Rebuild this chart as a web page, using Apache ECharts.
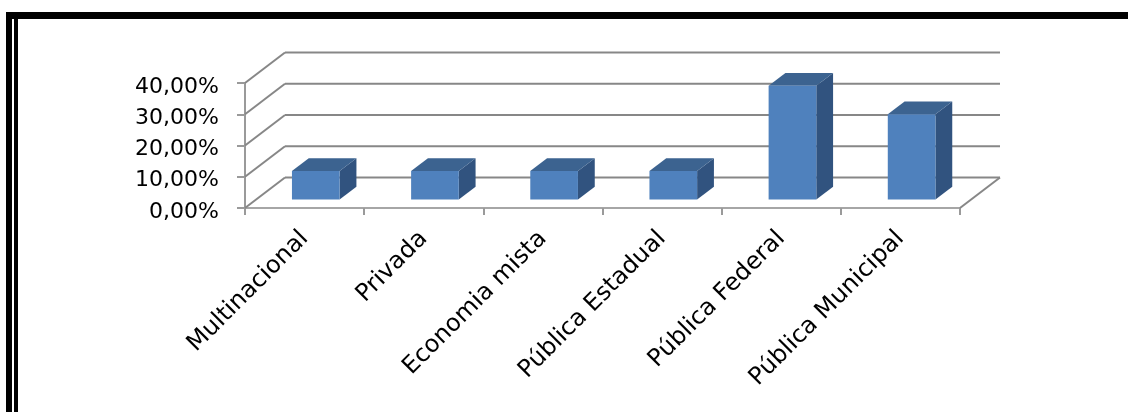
<!DOCTYPE html>
<html><head><meta charset="utf-8">
<script src="https://cdn.jsdelivr.net/npm/echarts@6/dist/echarts.min.js"></script>
<style>html,body{margin:0;padding:0;background:#fff}#c{width:1128px;height:412px}</style>
</head><body><div id="c"></div>
<script>
const categories = ['Multinacional', 'Privada', 'Economia mista', 'Pública Estadual', 'Pública Federal', 'Pública Municipal'];
const values = [9.09, 9.09, 9.09, 9.09, 36.36, 27.27];
const yTicks = [0, 10, 20, 30, 40];

const DX = 40, DY = -30.5;      // oblique depth projection of the 3D box
const F1 = 0.28, F2 = 0.70;     // bar depth range (fraction of depth)
const BAR_HALF = 0.2;           // half bar width as fraction of band
const FONT = 'DejaVu Sans';

function fmt(v) { return v.toFixed(2).replace('.', ',') + '%'; }

const chart = echarts.init(document.getElementById('c'), null, { renderer: 'canvas' });
chart.setOption({
  animation: false,
  backgroundColor: '#fff',
  grid: { left: 245, right: 168, top: 83, bottom: 204, containLabel: false },
  xAxis: {
    type: 'category', data: categories, boundaryGap: true,
    axisLine: { show: true, lineStyle: { color: '#a6a6a6', width: 2 } },
    axisTick: { show: true, length: 7, lineStyle: { color: '#9a9a9a', width: 2 } },
    axisLabel: { interval: 0, rotate: 45, margin: 27, fontFamily: FONT, fontSize: 24, color: '#000' },
    splitLine: { show: false }
  },
  yAxis: {
    type: 'value', min: 0, max: 40, interval: 10,
    axisLine: { show: true, lineStyle: { color: '#9a9a9a', width: 2 } },
    axisTick: { show: true, length: 8, lineStyle: { color: '#9a9a9a', width: 2 } },
    axisLabel: { margin: 26, formatter: fmt, fontFamily: FONT, fontSize: 22, color: '#000', verticalAlign: 'top', lineHeight: 8 },
    splitLine: { show: false }
  },
  graphic: [
    { type: 'rect', shape: { x: 6, y: 12, width: 1122, height: 7 }, style: { fill: '#000' }, z: 100 },
    { type: 'rect', shape: { x: 6, y: 12, width: 6, height: 400 }, style: { fill: '#000' }, z: 100 },
    { type: 'rect', shape: { x: 14, y: 19, width: 4, height: 393 }, style: { fill: '#000' }, z: 100 }
  ],
  series: [
    {
      type: 'custom', z: 1, silent: true,
      data: yTicks.map(v => [0, v]),
      encode: { x: 0, y: 1 },
      renderItem: (params, api) => {
        const cs = params.coordSys;
        const x0 = cs.x, x1 = cs.x + cs.width;
        const y = api.coord([0, api.value(1)])[1];
        const st = { stroke: '#878787', lineWidth: 2 };
        const ch = [
          { type: 'line', shape: { x1: x0, y1: y, x2: x0 + DX, y2: y + DY }, style: st },
          { type: 'line', shape: { x1: x0 + DX, y1: y + DY, x2: x1 + DX, y2: y + DY }, style: st }
        ];
        if (api.value(1) === 0) {
          ch.push({ type: 'line', shape: { x1: x1, y1: y, x2: x1 + DX, y2: y + DY }, style: st });
        }
        return { type: 'group', children: ch };
      }
    },
    {
      type: 'custom', z: 3,
      data: values.map((v, i) => [i, v]),
      encode: { x: 0, y: 1 },
      renderItem: (params, api) => {
        const i = api.value(0), v = api.value(1);
        const base = api.coord([i, 0]), top = api.coord([i, v]);
        const bw = api.size([1, 0])[0];
        const hw = bw * BAR_HALF;
        const ox1 = DX * F1, oy1 = DY * F1;
        const dx = DX * (F2 - F1), dy = DY * (F2 - F1);
        const xl = base[0] - hw + ox1, xr = base[0] + hw + ox1;
        const yt = top[1] + oy1, yb = base[1] + oy1;
        return {
          type: 'group', children: [
            { type: 'polygon', shape: { points: [[xr, yt], [xr + dx, yt + dy], [xr + dx, yb + dy], [xr, yb]] }, style: { fill: '#31537f' } },
            { type: 'polygon', shape: { points: [[xl, yt], [xr, yt], [xr + dx, yt + dy], [xl + dx, yt + dy]] }, style: { fill: '#3c6390' } },
            { type: 'rect', shape: { x: xl, y: yt, width: xr - xl, height: yb - yt }, style: { fill: '#4f81bd' } }
          ]
        };
      }
    }
  ]
});
</script></body></html>
